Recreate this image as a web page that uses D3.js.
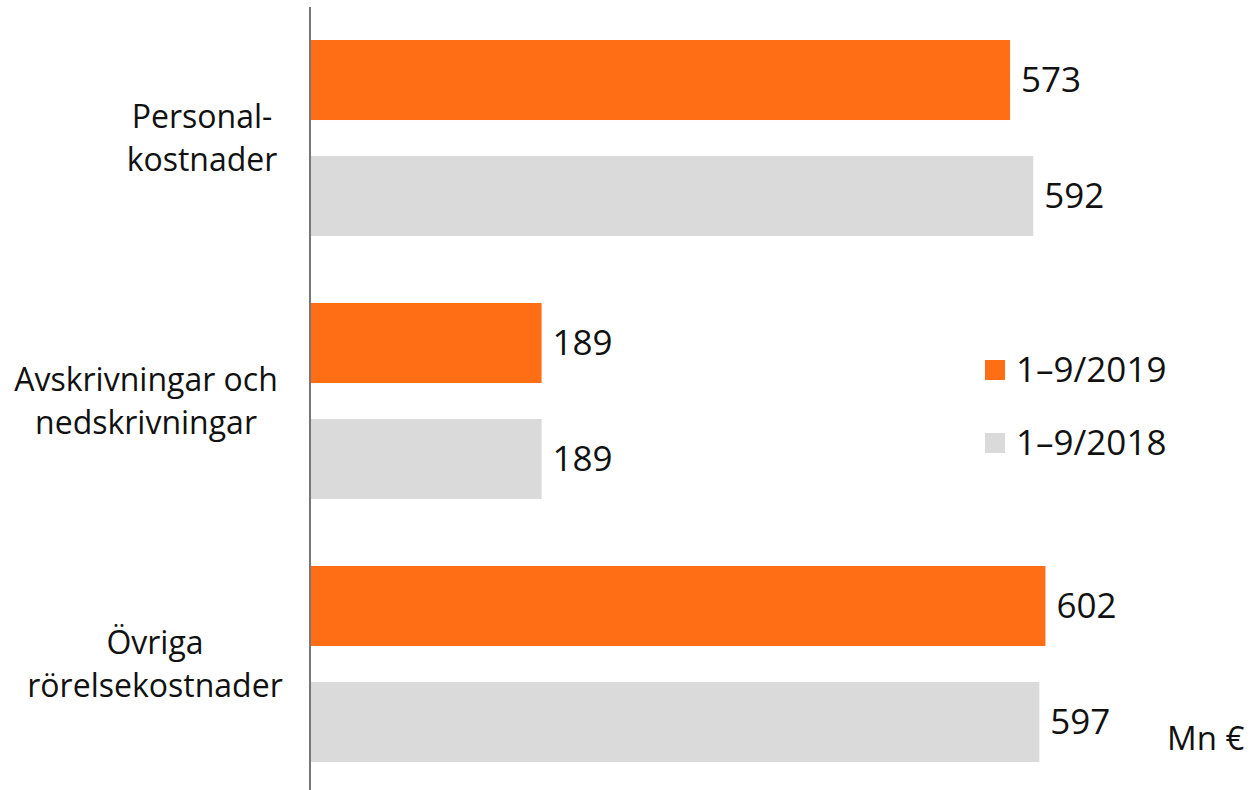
<!DOCTYPE html>
<html><head><meta charset="utf-8">
<script src="https://cdn.jsdelivr.net/npm/d3@7"></script>
<style>body{margin:0;background:#fff;}svg{display:block;font-family:"Open Sans",sans-serif;}</style>
</head><body>
<svg id="chart" width="1252" height="790"></svg>
<script>
const categories = ["Personal-\nkostnader", "Avskrivningar och\nnedskrivningar", "Övriga\nrörelsekostnader"];
const seriesNames = ["1–9/2019", "1–9/2018"];
const values2019 = [573, 189, 602];
const values2018 = [592, 189, 597];
const unitLabel = "Mn €";

const colors = ["#FF6D14", "#DADADA"];
const labelCenters = [202, 146, 155];

const svg = d3.select("#chart");
const x = d3.scaleLinear().domain([0, 700]).range([311, 311 + 854]);
const y0 = d3.scaleBand().domain(d3.range(categories.length)).range([6.5, 795.5]).padding(0);
const y1 = d3.scaleBand().domain(d3.range(seriesNames.length)).range([33.5, 229.5]).paddingInner(0.31).paddingOuter(0);
const series = [values2019, values2018];

const g = svg.append("g");
categories.forEach((c, i) => {
  series.forEach((vals, s) => {
    const yy = y0(i) + y1(s);
    g.append("rect").attr("x", x(0)).attr("y", yy)
      .attr("width", x(vals[i]) - x(0)).attr("height", y1.bandwidth())
      .attr("fill", colors[s]);
    g.append("text").attr("x", x(vals[i]) + 11).attr("y", yy + y1.bandwidth() / 2)
      .attr("dy", "0.35em").attr("font-size", 35).attr("fill", "#111")
      .text(vals[i]);
  });
  const lines = c.split("\n");
  const cy = y0(i) + y0.bandwidth() / 2;
  lines.forEach((ln, k) => {
    g.append("text").attr("x", labelCenters[i]).attr("y", cy + (k - (lines.length - 1) / 2) * 43)
      .attr("dy", "0.35em").attr("text-anchor", "middle").attr("font-size", 32).attr("fill", "#111")
      .text(ln);
  });
});

svg.append("line").attr("x1", 310).attr("x2", 310).attr("y1", 7).attr("y2", 790)
  .attr("stroke", "#777").attr("stroke-width", 2);

const leg = svg.append("g");
seriesNames.forEach((n, s) => {
  const ly = 370 + s * 73;
  leg.append("rect").attr("x", 985).attr("y", ly - 10).attr("width", 20).attr("height", 20).attr("fill", colors[s]);
  leg.append("text").attr("x", 1016).attr("y", ly).attr("dy", "0.35em").attr("font-size", 35).attr("fill", "#111").text(n);
});
svg.append("text").attr("x", 1167).attr("y", 738).attr("dy", "0.35em").attr("font-size", 33).attr("fill", "#111").text(unitLabel);
</script>
</body></html>
